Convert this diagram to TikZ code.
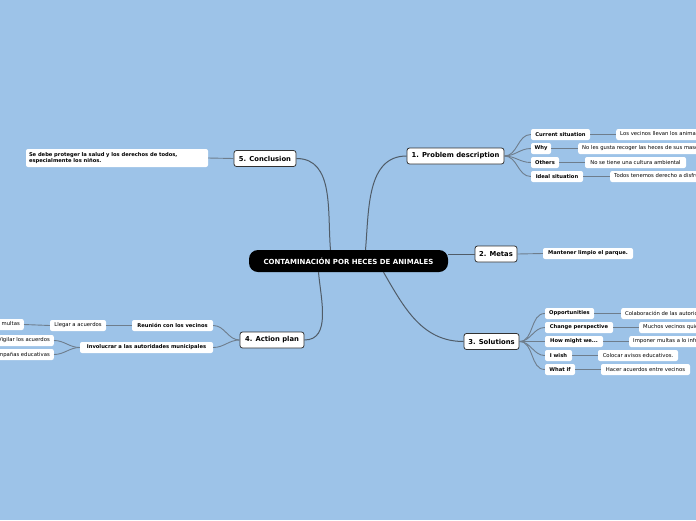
\documentclass[tikz,border=0pt]{standalone}
\usepackage{fontspec}
\setmainfont{DejaVu Sans}
\definecolor{bg}{RGB}{157,195,232}
\definecolor{mainline}{RGB}{80,92,104}
\definecolor{subline}{RGB}{110,125,140}
\definecolor{topicborder}{RGB}{50,50,50}
\begin{document}
\begin{tikzpicture}[x=1pt,y=1pt,
  central/.style={fill=black,rounded corners=9pt,text=white,inner sep=0pt,minimum width=199pt,minimum height=22pt,font=\fontsize{7}{8}\selectfont\bfseries},
  topic/.style={fill=white,draw=topicborder,line width=0.8pt,rounded corners=2.5pt,inner sep=0pt,minimum height=16pt,font=\fontsize{6.8}{7.5}\selectfont\bfseries},
  sub/.style={fill=white,rounded corners=2pt,inner sep=0pt,minimum height=11pt,font=\fontsize{5.2}{6}\selectfont\bfseries},
  leaf/.style={fill=white,rounded corners=2pt,inner sep=0pt,minimum height=11pt,font=\fontsize{5.3}{6}\selectfont},
  cutleaf/.style={leaf,inner xsep=4pt},
  mline/.style={draw=mainline,line width=1pt},
  sline/.style={draw=subline,line width=0.9pt}]
\clip (0,0) rectangle (696,-520);
\fill[bg] (0,0) rectangle (696,-520);
\useasboundingbox (0,0) rectangle (696,-520);

% central
\node[central] (c) at (348.5,-261) {CONTAMINACIÓN POR HECES DE ANIMALES};

% topics
\node[topic,minimum width=97pt] (t1) at (455.5,-156) {1. Problem description};
\node[topic,minimum width=42pt] (t2) at (496,-254) {2. Metas};
\node[topic,minimum width=55pt] (t3) at (491.5,-341.5) {3. Solutions};
\node[topic,minimum width=64pt] (t4) at (272,-340) {4. Action plan};
\node[topic,minimum width=62pt] (t5) at (265,-158.5) {5. Conclusion};

% main connectors
\draw[mline] ([xshift=17pt]c.north) to[out=85,in=180] (t1.west);
\draw[mline] (c.east |- t2.west) -- (t2.west);
\draw[mline] ([xshift=35pt]c.south) to[out=-60,in=180] (t3.west);
\draw[mline] ([xshift=-30pt]c.south) to[out=-85,in=0] (t4.east);
\draw[mline] ([xshift=-18pt]c.north) to[out=95,in=0] (t5.east);

% 1. Problem description
\node[sub,minimum width=59pt] (p1) at (560.5,-134.5) {Current situation};
\node[sub,minimum width=20pt] (p2) at (541,-148.5) {Why};
\node[sub,minimum width=28pt] (p3) at (545,-162.5) {Others};
\node[sub,minimum width=52pt] (p4) at (557,-176.5) {Ideal situation};
\node[cutleaf,anchor=west] (p1a) at (616,-134.5) {Los vecinos llevan los animales al parque};
\node[cutleaf,anchor=west] (p2a) at (578,-148.5) {No les gusta recoger las heces de sus mascotas};
\node[leaf,minimum width=101pt] (p3a) at (635.5,-162.5) {No se tiene una cultura ambiental};
\node[cutleaf,anchor=west] (p4a) at (610,-176.5) {Todos tenemos derecho a disfrutar del parque};
\foreach \n in {p1,p2,p3,p4}{
  \draw[sline] (t1.east) to[out=0,in=180] (\n.west);
  \draw[sline] (\n.east) -- (\n a.west);
}

% 2. Metas
\node[leaf,minimum width=90pt,font=\fontsize{5.2}{6}\selectfont\bfseries] (m1) at (588,-253.5) {Mantener limpio el parque.};
\draw[sline] (t2.east) -- (m1.west);

% 3. Solutions
\node[sub,minimum width=49pt] (s1) at (569.5,-313.5) {Opportunities};
\node[sub,minimum width=68pt] (s2) at (579,-327.5) {Change perspective};
\node[sub,minimum width=58pt] (s3) at (574,-341.5) {How might we...};
\node[sub,minimum width=27pt] (s4) at (558.5,-355.5) {I wish};
\node[sub,minimum width=30pt] (s5) at (560,-369.5) {What if};
\node[cutleaf,anchor=west] (s1a) at (621,-313.5) {Colaboración de las autoridades municipales};
\node[cutleaf,anchor=west] (s2a) at (639,-327.5) {Muchos vecinos quieren un parque limpio};
\node[cutleaf,anchor=west] (s3a) at (629,-341.5) {Imponer multas a lo infractores};
\node[leaf,minimum width=80pt] (s4a) at (638,-355.5) {Colocar avisos educativos.};
\node[leaf,minimum width=89pt] (s5a) at (645.5,-369.5) {Hacer acuerdos entre vecinos};
\foreach \n in {s1,s2,s3,s4,s5}{
  \draw[sline] (t3.east) to[out=0,in=180] (\n.west);
  \draw[sline] (\n.east) -- (\n a.west);
}

% 4. Action plan
\node[sub,minimum width=81pt] (a1) at (172.5,-325.5) {Reunión con los vecinos};
\node[sub,minimum width=133pt] (a2) at (146.5,-347.5) {Involucrar a las autoridades municipales};
\node[leaf,minimum width=56pt] (a1a) at (78,-325.5) {Llegar a acuerdos};
\node[cutleaf,anchor=east] (a1b) at (24,-324.5) {Imponer multas};
\node[cutleaf,anchor=east] (a2a) at (54,-340.5) {Vigilar los acuerdos};
\node[cutleaf,anchor=east] (a2b) at (54,-354.5) {Campañas educativas};
\draw[sline] (t4.west) to[out=180,in=0] (a1.east);
\draw[sline] (t4.west) to[out=180,in=0] (a2.east);
\draw[sline] (a1.west) -- (a1a.east);
\draw[sline] (a1a.west) -- (a1b.east);
\draw[sline] (a2.west) to[out=180,in=0] (a2a.east);
\draw[sline] (a2.west) to[out=180,in=0] (a2b.east);

% 5. Conclusion
\node[leaf,minimum width=182pt,minimum height=18pt,font=\fontsize{5.2}{6.5}\selectfont\bfseries,align=left,text width=176pt] (k1) at (117,-158) {Se debe proteger la salud y los derechos de todos,\\especialmente los niños.};
\draw[sline] (t5.west) -- (k1.east);
\end{tikzpicture}
\end{document}
